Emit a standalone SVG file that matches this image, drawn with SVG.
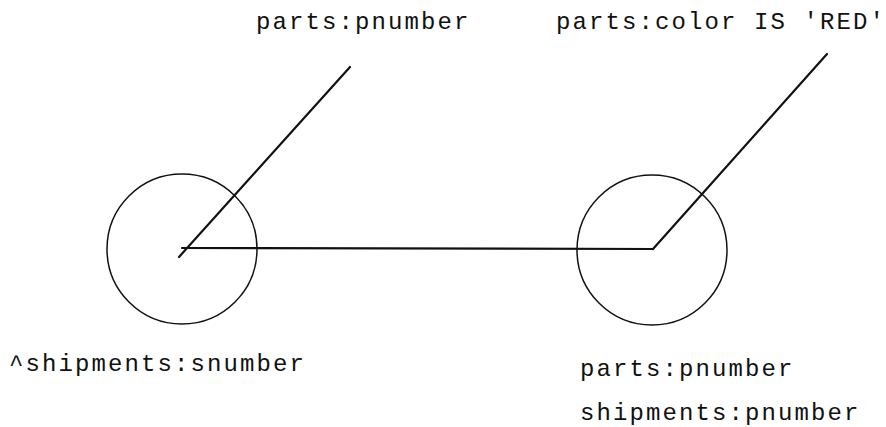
<svg xmlns="http://www.w3.org/2000/svg" width="886" height="427" viewBox="0 0 886 427">
<style>
.n{fill:none;stroke:#111;stroke-width:1.5}
.c{fill:none;stroke:#111;stroke-width:2.2;stroke-linecap:round}
text{font-family:"Liberation Mono","Courier New",monospace;font-size:24px;letter-spacing:2.1px;fill:#111}
</style>
<rect width="886" height="427" fill="#fff"/>
<g id="node-left">
<circle class="n" cx="182" cy="249" r="75"/>
</g>
<g id="node-right">
<circle class="n" cx="652" cy="250" r="75"/>
</g>
<g id="connectors">
<line class="c" x1="179" y1="257" x2="350" y2="67"/>
<line class="c" x1="182" y1="248" x2="653" y2="249"/>
<line class="c" x1="653" y1="249" x2="827" y2="54"/>
</g>
<g id="labels">
<text x="256" y="29">parts:pnumber</text>
<text x="556" y="29">parts:color IS 'RED'</text>
<text x="9" y="371">^shipments:snumber</text>
<text x="580" y="376">parts:pnumber</text>
<text x="580" y="420">shipments:pnumber</text>
</g>
</svg>
